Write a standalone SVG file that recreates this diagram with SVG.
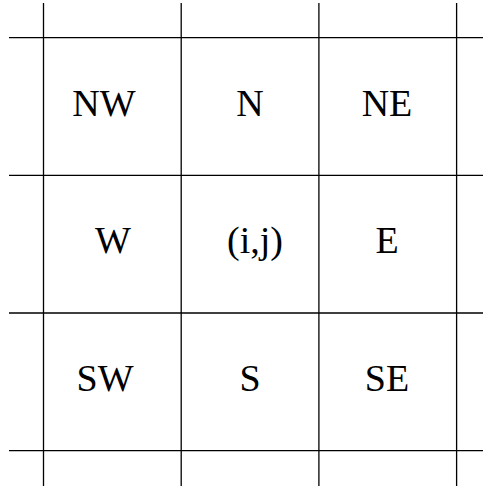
<svg xmlns="http://www.w3.org/2000/svg" width="483" height="486" viewBox="0 0 483 486">
<style>
.g{stroke:#000;stroke-width:1.3;fill:none}
text{font-size:38px;fill:#000;text-anchor:middle}
</style>
<rect width="483" height="486" fill="#fff"/>
<g id="connectors">
<line class="g" x1="43.5" y1="3" x2="43.5" y2="486"/>
<line class="g" x1="181.2" y1="3" x2="181.2" y2="486"/>
<line class="g" x1="318.9" y1="3" x2="318.9" y2="486"/>
<line class="g" x1="456.6" y1="3" x2="456.6" y2="486"/>
<line class="g" x1="9" y1="37.7" x2="483" y2="37.7"/>
<line class="g" x1="9" y1="175.3" x2="483" y2="175.3"/>
<line class="g" x1="9" y1="313" x2="483" y2="313"/>
<line class="g" x1="9" y1="450.7" x2="483" y2="450.7"/>
</g>
<g font-family="'Liberation Serif', 'Times New Roman', Times, serif">
<g id="NW"><text x="104" y="116">NW</text></g>
<g id="N"><text x="250" y="116">N</text></g>
<g id="NE"><text x="387" y="116">NE</text></g>
<g id="W"><text x="113" y="253">W</text></g>
<g id="C"><text x="255" y="253">(i,j)</text></g>
<g id="E"><text x="387" y="253">E</text></g>
<g id="SW"><text x="105" y="391">SW</text></g>
<g id="S"><text x="250" y="391">S</text></g>
<g id="SE"><text x="387" y="391">SE</text></g>
</g>
</svg>
